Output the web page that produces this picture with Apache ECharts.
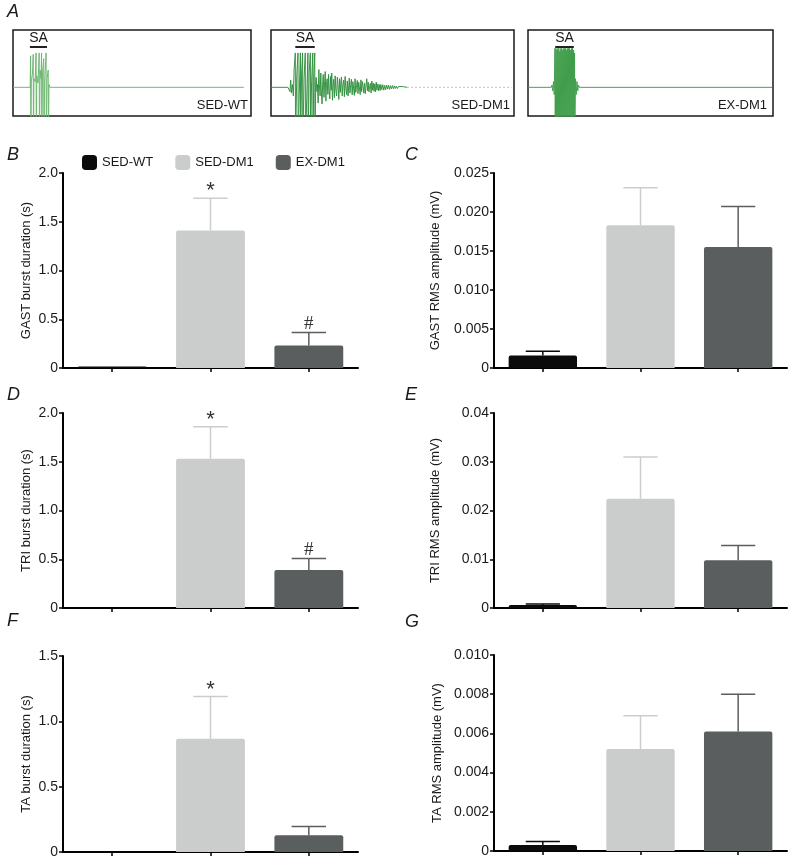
<!DOCTYPE html>
<html>
<head>
<meta charset="utf-8">
<script src="https://cdn.jsdelivr.net/npm/echarts@6/dist/echarts.min.js"></script>
<style>
html,body{margin:0;padding:0;background:#fff;}
#chart{width:790px;height:860px;}
</style>
</head>
<body>
<div id="chart"></div>
<script>
// ---------- data ----------
const groups = ['SED-WT', 'SED-DM1', 'EX-DM1'];
const groupColors = ['#0b0b0b', '#cbcdcc', '#5a5e5f'];

const gastDurMean = [0.015, 1.41, 0.23];
const gastDurSem  = [0, 0.33, 0.135];
const gastDurSig  = ['', '*', '#'];
const gastDurTicks = [0, 0.5, 1.0, 1.5, 2.0];

const gastRmsMean = [0.0016, 0.0183, 0.0155];
const gastRmsSem  = [0.00055, 0.0048, 0.0052];
const gastRmsSig  = ['', '', ''];
const gastRmsTicks = [0, 0.005, 0.010, 0.015, 0.020, 0.025];

const triDurMean = [0, 1.53, 0.39];
const triDurSem  = [0, 0.33, 0.118];
const triDurSig  = ['', '*', '#'];
const triDurTicks = [0, 0.5, 1.0, 1.5, 2.0];

const triRmsMean = [0.0006, 0.0224, 0.0098];
const triRmsSem  = [0.0002, 0.0086, 0.003];
const triRmsSig  = ['', '', ''];
const triRmsTicks = [0, 0.01, 0.02, 0.03, 0.04];

const taDurMean = [0, 0.866, 0.128];
const taDurSem  = [0, 0.324, 0.067];
const taDurSig  = ['', '*', ''];
const taDurTicks = [0, 0.5, 1.0, 1.5];

const taRmsMean = [0.0003, 0.0052, 0.0061];
const taRmsSem  = [0.00018, 0.0017, 0.0019];
const taRmsSig  = ['', '', ''];
const taRmsTicks = [0, 0.002, 0.004, 0.006, 0.008, 0.010];

// EMG traces (x: % of sweep, y: relative amplitude)
const traceWT = [[0,0],[7.2,0],[7.4,1.1],[7.5,-2],[7.7,0.2],[8.2,0.5],[8.5,1.15],[8.6,-2],[8.8,0.3],[9.3,0.2],[9.7,1.2],[9.8,-2],[10,0.4],[10.5,0.15],[11,1.2],[11.1,-2],[11.4,0.6],[11.8,0.3],[12,1.2],[12.1,-2],[12.4,0.5],[12.9,1.0],[13.0,-2],[13.3,0.2],[13.9,1.2],[14.0,-2],[14.3,0.3],[14.8,0.6],[14.9,-2],[15.1,0.1],[15.5,0],[97,0]];

const traceDM1 = [[0,0],[7,0],[7.5,0.05],[7.8,-0.15],[8.1,0.25],[8.4,-0.2],[8.8,0.1],[9.2,-0.3],[9.5,0.6],
 [10,1.2],[10.1,-2],[10.6,0.4],[11.1,1.2],[11.2,-2],[11.6,-0.3],[12.1,1.2],[12.2,-2],[12.6,0.5],[13,1.2],[13.1,-2],[13.6,0.3],[14.1,1.2],[14.2,-2],[14.7,-0.4],[15.2,1.2],[15.3,-2],[15.7,0.5],[16.2,1.2],[16.3,-2],[16.7,0.2],[17.2,1.2],[17.3,-2],[17.6,0.4],[18,1.2],[18.1,-2],[18.4,0.2],
 [18.6,0.35],[18.9,-0.15],[19.1,0.1],[19.4,-0.55],[19.7,0.62],[19.9,0.1],[20.2,-0.3],[20.5,0.5],[20.7,-0.1],[21.0,-0.58],[21.3,0.2],[21.5,0.45],[21.8,-0.35],[22.0,0.05],[22.3,0.55],[22.6,-0.48],[22.8,0.1],[23.1,0.3],[23.4,-0.25],[23.7,0.45],[23.9,-0.05],[24.2,-0.4],[24.5,0.38],[24.8,-0.1],[25.0,0.5],[25.3,-0.45],[25.6,0.12],[25.8,0.28],[26.1,-0.36],[26.4,0.4],[26.7,-0.1],[27.0,-0.3],[27.3,0.35],[27.6,0.05],[27.9,-0.42],[28.2,0.3],[28.5,-0.18],[28.8,0.22],[29.0,0.36],[29.3,-0.3],[29.6,0.1],[29.9,0.25],[30.2,-0.33],[30.5,0.38],[30.8,-0.05],[31.1,-0.25],[31.4,0.22],[31.7,-0.3],[32.0,0.05],[32.2,0.32],[32.5,-0.2],[32.8,0.1],[33.1,0.28],[33.4,-0.26],[33.7,0.2],[34.0,-0.05],[34.3,-0.28],[34.6,0.3],[34.9,-0.18],[35.2,0.06],[35.5,0.24],[35.8,-0.22],[36.1,0.18],[36.4,-0.02],[36.7,-0.25],[37.0,0.26],[37.3,-0.15],[37.6,0.2],[37.9,0.02],[38.2,-0.2],[38.5,0.15],[38.8,-0.22],[39.1,0.05],[39.4,0.3],[39.7,-0.12],[40.0,0.18],[40.3,-0.16],[40.6,0.02],[40.9,0.14],[41.2,-0.2],[41.5,0.22],[41.8,-0.1],[42.1,0.15],[42.4,-0.14],[42.7,0.12],[43.0,-0.16],[43.3,0.18],[43.6,-0.1],[44.0,0.12],[44.3,-0.12],[44.6,0.09],[44.9,-0.11],[45.2,0.1],[45.6,-0.08],[46.0,0.09],[46.4,-0.1],[46.8,0.07],[47.2,-0.08],[47.6,0.08],[48.0,-0.06],[48.4,0.07],[48.8,-0.07],[49.2,0.06],[49.6,-0.05],[50.0,0.06],[50.4,-0.05],[50.8,0.05],[51.2,-0.04],[51.6,0.04],[52.0,-0.04],[52.5,0.03],[53.0,-0.03],[53.5,0.03],[54.0,-0.02],[54.6,0.02],[55.3,-0.01],[56.0,0]];
const traceDM1Tail = [[56.0,0],[99,0]];

const traceEX = [[0,0],[9.5,0],[9.8,0.08],[10.1,-0.12],[10.4,0.2],[10.7,-0.25],
 [11.0,1.36],[11.1,-2],[11.4,1.36],[11.5,-2],[11.8,1.3],[11.9,-2],[12.2,1.36],[12.3,-2],[12.6,1.36],[12.7,-2],[13.0,1.25],[13.1,-2],[13.4,1.36],[13.5,-2],[13.8,1.36],[13.9,-2],[14.2,1.3],[14.3,-2],[14.6,1.36],[14.7,-2],[15.0,1.36],[15.1,-2],[15.4,1.36],[15.5,-2],[15.8,1.3],[15.9,-2],[16.2,1.36],[16.3,-2],[16.6,1.36],[16.7,-2],[17.0,1.36],[17.1,-2],[17.4,1.3],[17.5,-2],[17.8,1.36],[17.9,-2],[18.2,1.36],[18.3,-2],[18.6,1.3],[18.7,-2],[19.0,1.2],[19.1,-2],
 [19.4,0.3],[19.7,-0.25],[20.0,0.2],[20.3,-0.12],[20.6,0.08],[21,0],[99.6,0]];

const traceNames = ['SED-WT', 'SED-DM1', 'EX-DM1'];
const saSpans = [[7.1, 14.3], [10, 18], [11.1, 18.7]];

// ---------- layout ----------
const FONT = "'Liberation Sans', Arial, Helvetica, sans-serif";
const TXT = '#1a1a1a';

const traceGrids = [
  {left: 13, top: 30, width: 238, height: 86},
  {left: 271, top: 30, width: 243, height: 86},
  {left: 528, top: 30, width: 245, height: 86}
];
const panels = [
  {mean: gastDurMean, sem: gastDurSem, sig: gastDurSig, ticks: gastDurTicks, dec: 1, name: 'GAST burst duration (s)', grid: {left: 63, top: 173, width: 295, height: 195}, gap: 30},
  {mean: gastRmsMean, sem: gastRmsSem, sig: gastRmsSig, ticks: gastRmsTicks, dec: 3, name: 'GAST RMS amplitude (mV)', grid: {left: 494, top: 173, width: 293, height: 195}, gap: 52},
  {mean: triDurMean, sem: triDurSem, sig: triDurSig, ticks: triDurTicks, dec: 1, name: 'TRI burst duration (s)', grid: {left: 63, top: 413, width: 295, height: 195}, gap: 30},
  {mean: triRmsMean, sem: triRmsSem, sig: triRmsSig, ticks: triRmsTicks, dec: 2, name: 'TRI RMS amplitude (mV)', grid: {left: 494, top: 413, width: 293, height: 195}, gap: 52},
  {mean: taDurMean, sem: taDurSem, sig: taDurSig, ticks: taDurTicks, dec: 1, name: 'TA burst duration (s)', grid: {left: 63, top: 656, width: 295, height: 196}, gap: 30},
  {mean: taRmsMean, sem: taRmsSem, sig: taRmsSig, ticks: taRmsTicks, dec: 3, name: 'TA RMS amplitude (mV)', grid: {left: 494, top: 655, width: 293, height: 196}, gap: 50}
];

const grid = [], xAxis = [], yAxis = [], series = [];

// trace panels
const traces = [traceWT, traceDM1, traceEX];
traces.forEach((tr, k) => {
  grid.push(Object.assign({show: true, borderColor: '#1a1a1a', borderWidth: 1.5, backgroundColor: 'transparent'}, traceGrids[k]));
  xAxis.push({type: 'value', gridIndex: k, min: 0, max: 100, show: false});
  yAxis.push({type: 'value', gridIndex: k, min: -1, max: 2, show: false});
  series.push({
    type: 'line', xAxisIndex: k, yAxisIndex: k, data: tr, symbol: 'none', silent: true, clip: true,
    lineStyle: {width: 1, color: k === 1 ? '#2f8f3c' : (k === 0 ? '#6cb56e' : '#3f9d4a'), opacity: 0.95},
    markLine: {
      symbol: 'none', silent: true, animation: false,
      lineStyle: {color: '#222', width: 2, type: 'solid'},
      label: {show: true, position: 'insideMiddleTop', formatter: 'SA', color: TXT, fontSize: 14, fontFamily: FONT, distance: 1},
      data: [[{coord: [saSpans[k][0], 1.42]}, {coord: [saSpans[k][1], 1.42]}]]
    }
  });
});
series.push({
  type: 'line', xAxisIndex: 1, yAxisIndex: 1, data: traceDM1Tail, symbol: 'none', silent: true,
  lineStyle: {width: 1, color: '#b9c4b9', type: [2, 2]}
});

// bar panels
panels.forEach((p, j) => {
  const gi = j + 3;
  grid.push(Object.assign({show: false}, p.grid));
  xAxis.push({
    type: 'category', gridIndex: gi, data: groups,
    axisLine: {lineStyle: {color: '#000', width: 2}},
    axisTick: {show: true, alignWithLabel: true, length: 4, lineStyle: {color: '#000', width: 1.5}},
    axisLabel: {show: false}
  });
  const t = p.ticks;
  yAxis.push({
    type: 'value', gridIndex: gi, min: t[0], max: t[t.length - 1], interval: t[1] - t[0],
    name: p.name, nameLocation: 'middle', nameGap: p.gap,
    nameTextStyle: {fontSize: 13, color: TXT, fontFamily: FONT},
    axisLine: {show: true, lineStyle: {color: '#000', width: 2}},
    axisTick: {show: true, length: 4, lineStyle: {color: '#000', width: 1.5}},
    axisLabel: {fontSize: 14, color: TXT, fontFamily: FONT, margin: 5,
      formatter: v => (Math.abs(v) < 1e-12 ? '0' : v.toFixed(p.dec))},
    splitLine: {show: false}
  });
  groups.forEach((g, k) => {
    series.push({
      type: 'bar', name: g, xAxisIndex: gi, yAxisIndex: gi,
      data: groups.map((_, i) => (i === k ? p.mean[i] : '-')),
      barWidth: '70%', barGap: '-100%',
      itemStyle: {color: groupColors[k], borderRadius: [2, 2, 0, 0]},
      silent: true
    });
  });
  series.push({
    type: 'custom', xAxisIndex: gi, yAxisIndex: gi, silent: true, z: 5,
    data: groups.map((_, i) => [i, p.mean[i], p.mean[i] + p.sem[i]]),
    renderItem: function (params, api) {
      const i = params.dataIndex;
      const m = api.value(1), hi = api.value(2);
      const top = api.coord([api.value(0), hi]);
      const base = api.coord([api.value(0), m]);
      const band = api.size([1, 0])[0];
      const half = band * 0.175;
      const col = groupColors[i];
      const children = [];
      if (hi > m) {
        children.push({type: 'line', shape: {x1: top[0], y1: base[1], x2: top[0], y2: top[1]}, style: {stroke: col, lineWidth: 1.5}});
        children.push({type: 'line', shape: {x1: top[0] - half, y1: top[1], x2: top[0] + half, y2: top[1]}, style: {stroke: col, lineWidth: 1.5}});
      }
      const s = p.sig[i];
      if (s) {
        children.push({type: 'text', style: {
          text: s, x: top[0], y: top[1] + (s === '*' ? 4 : 1),
          align: 'center', verticalAlign: 'bottom',
          font: s === '*' ? ('22px ' + FONT) : "19px 'Liberation Serif', 'Times New Roman', serif",
          fill: '#333'
        }});
      }
      return {type: 'group', children: children};
    }
  });
});

const letterStyle = {font: "italic 18px " + FONT, fill: TXT};
const graphic = [
  {type: 'text', left: 7, top: 3, style: Object.assign({text: 'A'}, letterStyle)},
  {type: 'text', left: 7, top: 146, style: Object.assign({text: 'B'}, letterStyle)},
  {type: 'text', left: 405, top: 146, style: Object.assign({text: 'C'}, letterStyle)},
  {type: 'text', left: 7, top: 386, style: Object.assign({text: 'D'}, letterStyle)},
  {type: 'text', left: 405, top: 386, style: Object.assign({text: 'E'}, letterStyle)},
  {type: 'text', left: 7, top: 612, style: Object.assign({text: 'F'}, letterStyle)},
  {type: 'text', left: 405, top: 613, style: Object.assign({text: 'G'}, letterStyle)},
  {type: 'text', right: 542, top: 99, style: {text: traceNames[0], font: '13px ' + FONT, fill: TXT}},
  {type: 'text', right: 280, top: 99, style: {text: traceNames[1], font: '13px ' + FONT, fill: TXT}},
  {type: 'text', right: 23, top: 99, style: {text: traceNames[2], font: '13px ' + FONT, fill: TXT}}
];

const option = {
  animation: false,
  backgroundColor: '#fff',
  legend: {
    data: groups, left: 82, top: 155, padding: 0, itemGap: 22,
    itemWidth: 15, itemHeight: 15, icon: 'roundRect', selectedMode: false,
    textStyle: {fontSize: 13, color: TXT, fontFamily: FONT}
  },
  grid: grid, xAxis: xAxis, yAxis: yAxis, series: series, graphic: graphic
};

const chart = echarts.init(document.getElementById('chart'), null, {renderer: 'canvas'});
chart.setOption(option);
</script>
</body>
</html>
